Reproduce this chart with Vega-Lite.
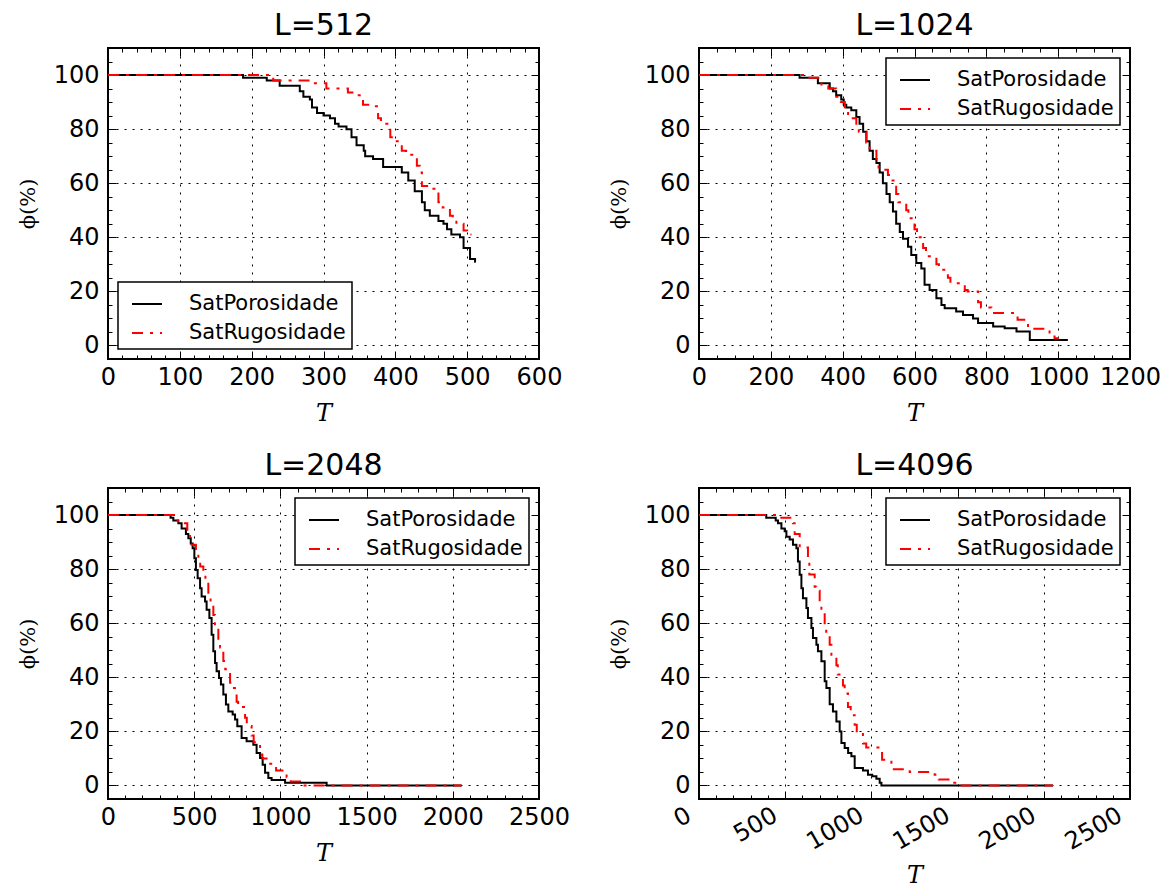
{
"$schema": "https://vega.github.io/schema/vega-lite/v6.json",
"padding": {"left": 16, "top": 10, "right": 5, "bottom": 2},
"bounds": "flush",
"spacing": {"row": 129, "column": 160},
"columns": 2,
"datasets": {
"d512": [
{"series":"SatPorosidade","T":0,"phi":100},{"series":"SatPorosidade","T":188,"phi":99},{"series":"SatPorosidade","T":221,"phi":98},{"series":"SatPorosidade","T":239,"phi":96},{"series":"SatPorosidade","T":267,"phi":94},{"series":"SatPorosidade","T":272,"phi":92},{"series":"SatPorosidade","T":281,"phi":91},{"series":"SatPorosidade","T":284,"phi":88},{"series":"SatPorosidade","T":291,"phi":86},{"series":"SatPorosidade","T":300,"phi":85},{"series":"SatPorosidade","T":309,"phi":84},{"series":"SatPorosidade","T":316,"phi":82},{"series":"SatPorosidade","T":321,"phi":81},{"series":"SatPorosidade","T":332,"phi":80},{"series":"SatPorosidade","T":339,"phi":77},{"series":"SatPorosidade","T":346,"phi":74},{"series":"SatPorosidade","T":356,"phi":72},{"series":"SatPorosidade","T":358,"phi":70},{"series":"SatPorosidade","T":369,"phi":69},{"series":"SatPorosidade","T":383,"phi":66},{"series":"SatPorosidade","T":409,"phi":64},{"series":"SatPorosidade","T":418,"phi":61},{"series":"SatPorosidade","T":427,"phi":57},{"series":"SatPorosidade","T":437,"phi":53},{"series":"SatPorosidade","T":441,"phi":50},{"series":"SatPorosidade","T":448,"phi":48},{"series":"SatPorosidade","T":460,"phi":46},{"series":"SatPorosidade","T":467,"phi":45},{"series":"SatPorosidade","T":472,"phi":43},{"series":"SatPorosidade","T":478,"phi":41},{"series":"SatPorosidade","T":490,"phi":40},{"series":"SatPorosidade","T":495,"phi":36},{"series":"SatPorosidade","T":504,"phi":32},{"series":"SatPorosidade","T":511,"phi":31},{"series":"SatPorosidade","T":512,"phi":31},
{"series":"SatRugosidade","T":0,"phi":100},{"series":"SatRugosidade","T":230,"phi":98},{"series":"SatRugosidade","T":286,"phi":97},{"series":"SatRugosidade","T":304,"phi":95},{"series":"SatRugosidade","T":334,"phi":93.5},{"series":"SatRugosidade","T":345,"phi":92.5},{"series":"SatRugosidade","T":355,"phi":89},{"series":"SatRugosidade","T":367,"phi":88.5},{"series":"SatRugosidade","T":376,"phi":84},{"series":"SatRugosidade","T":380,"phi":82},{"series":"SatRugosidade","T":393,"phi":77},{"series":"SatRugosidade","T":398,"phi":75.5},{"series":"SatRugosidade","T":409,"phi":72},{"series":"SatRugosidade","T":415,"phi":71},{"series":"SatRugosidade","T":420,"phi":70.5},{"series":"SatRugosidade","T":430,"phi":66.5},{"series":"SatRugosidade","T":434,"phi":64},{"series":"SatRugosidade","T":437,"phi":59},{"series":"SatRugosidade","T":448,"phi":58},{"series":"SatRugosidade","T":460,"phi":53},{"series":"SatRugosidade","T":466,"phi":51},{"series":"SatRugosidade","T":476,"phi":48},{"series":"SatRugosidade","T":480,"phi":46.5},{"series":"SatRugosidade","T":485,"phi":45},{"series":"SatRugosidade","T":495,"phi":42.5},{"series":"SatRugosidade","T":500,"phi":41},{"series":"SatRugosidade","T":506,"phi":41}
],
"d1024": [
{"series":"SatPorosidade","T":0,"phi":100},{"series":"SatPorosidade","T":280,"phi":99},{"series":"SatPorosidade","T":331,"phi":97},{"series":"SatPorosidade","T":364,"phi":95},{"series":"SatPorosidade","T":373,"phi":94},{"series":"SatPorosidade","T":382,"phi":92.5},{"series":"SatPorosidade","T":396,"phi":91},{"series":"SatPorosidade","T":403,"phi":89},{"series":"SatPorosidade","T":410,"phi":88},{"series":"SatPorosidade","T":424,"phi":87},{"series":"SatPorosidade","T":438,"phi":84.5},{"series":"SatPorosidade","T":447,"phi":82},{"series":"SatPorosidade","T":457,"phi":79},{"series":"SatPorosidade","T":466,"phi":75.5},{"series":"SatPorosidade","T":475,"phi":72},{"series":"SatPorosidade","T":484,"phi":69},{"series":"SatPorosidade","T":494,"phi":67.5},{"series":"SatPorosidade","T":503,"phi":64},{"series":"SatPorosidade","T":512,"phi":60},{"series":"SatPorosidade","T":522,"phi":56},{"series":"SatPorosidade","T":531,"phi":53},{"series":"SatPorosidade","T":540,"phi":49.5},{"series":"SatPorosidade","T":549,"phi":45},{"series":"SatPorosidade","T":559,"phi":42},{"series":"SatPorosidade","T":568,"phi":39.5},{"series":"SatPorosidade","T":582,"phi":36.5},{"series":"SatPorosidade","T":591,"phi":33.5},{"series":"SatPorosidade","T":605,"phi":30.5},{"series":"SatPorosidade","T":619,"phi":28.5},{"series":"SatPorosidade","T":628,"phi":22.5},{"series":"SatPorosidade","T":642,"phi":20.5},{"series":"SatPorosidade","T":661,"phi":17.5},{"series":"SatPorosidade","T":675,"phi":15},{"series":"SatPorosidade","T":684,"phi":13.8},{"series":"SatPorosidade","T":716,"phi":12.6},{"series":"SatPorosidade","T":735,"phi":11.3},{"series":"SatPorosidade","T":763,"phi":10},{"series":"SatPorosidade","T":777,"phi":8.3},{"series":"SatPorosidade","T":819,"phi":7},{"series":"SatPorosidade","T":851,"phi":6.4},{"series":"SatPorosidade","T":884,"phi":5.2},{"series":"SatPorosidade","T":921,"phi":2},{"series":"SatPorosidade","T":1027,"phi":2},
{"series":"SatRugosidade","T":0,"phi":100},{"series":"SatRugosidade","T":294,"phi":99},{"series":"SatRugosidade","T":341,"phi":96},{"series":"SatRugosidade","T":360,"phi":95},{"series":"SatRugosidade","T":382,"phi":92},{"series":"SatRugosidade","T":395,"phi":90},{"series":"SatRugosidade","T":406,"phi":86},{"series":"SatRugosidade","T":415,"phi":84},{"series":"SatRugosidade","T":438,"phi":80},{"series":"SatRugosidade","T":445,"phi":79},{"series":"SatRugosidade","T":466,"phi":75},{"series":"SatRugosidade","T":475,"phi":72},{"series":"SatRugosidade","T":494,"phi":68},{"series":"SatRugosidade","T":500,"phi":65},{"series":"SatRugosidade","T":526,"phi":63},{"series":"SatRugosidade","T":535,"phi":61},{"series":"SatRugosidade","T":549,"phi":56},{"series":"SatRugosidade","T":555,"phi":53},{"series":"SatRugosidade","T":577,"phi":50},{"series":"SatRugosidade","T":583,"phi":47},{"series":"SatRugosidade","T":600,"phi":43},{"series":"SatRugosidade","T":607,"phi":40},{"series":"SatRugosidade","T":624,"phi":36},{"series":"SatRugosidade","T":632,"phi":33},{"series":"SatRugosidade","T":661,"phi":30},{"series":"SatRugosidade","T":668,"phi":28},{"series":"SatRugosidade","T":693,"phi":25},{"series":"SatRugosidade","T":700,"phi":23},{"series":"SatRugosidade","T":740,"phi":20.5},{"series":"SatRugosidade","T":748,"phi":20},{"series":"SatRugosidade","T":777,"phi":16},{"series":"SatRugosidade","T":785,"phi":14},{"series":"SatRugosidade","T":814,"phi":12},{"series":"SatRugosidade","T":879,"phi":11},{"series":"SatRugosidade","T":887,"phi":9.5},{"series":"SatRugosidade","T":916,"phi":6.2},{"series":"SatRugosidade","T":976,"phi":3.3},{"series":"SatRugosidade","T":990,"phi":2.7},{"series":"SatRugosidade","T":1002,"phi":2.7}
],
"d2048": [
{"series":"SatPorosidade","T":0,"phi":100},{"series":"SatPorosidade","T":363,"phi":99},{"series":"SatPorosidade","T":379,"phi":98},{"series":"SatPorosidade","T":408,"phi":97},{"series":"SatPorosidade","T":427,"phi":95},{"series":"SatPorosidade","T":452,"phi":93},{"series":"SatPorosidade","T":466,"phi":91.4},{"series":"SatPorosidade","T":480,"phi":89.5},{"series":"SatPorosidade","T":491,"phi":87.7},{"series":"SatPorosidade","T":501,"phi":84},{"series":"SatPorosidade","T":510,"phi":79.7},{"series":"SatPorosidade","T":520,"phi":76.6},{"series":"SatPorosidade","T":534,"phi":72.9},{"series":"SatPorosidade","T":543,"phi":69.9},{"series":"SatPorosidade","T":563,"phi":68},{"series":"SatPorosidade","T":572,"phi":65},{"series":"SatPorosidade","T":588,"phi":61.9},{"series":"SatPorosidade","T":601,"phi":55.7},{"series":"SatPorosidade","T":611,"phi":49.6},{"series":"SatPorosidade","T":621,"phi":45.3},{"series":"SatPorosidade","T":630,"phi":42.2},{"series":"SatPorosidade","T":644,"phi":39.7},{"series":"SatPorosidade","T":655,"phi":37.3},{"series":"SatPorosidade","T":669,"phi":33.6},{"series":"SatPorosidade","T":684,"phi":29.9},{"series":"SatPorosidade","T":698,"phi":27.4},{"series":"SatPorosidade","T":723,"phi":26.2},{"series":"SatPorosidade","T":737,"phi":24.4},{"series":"SatPorosidade","T":750,"phi":21.9},{"series":"SatPorosidade","T":775,"phi":17.6},{"series":"SatPorosidade","T":804,"phi":16.4},{"series":"SatPorosidade","T":843,"phi":15.1},{"series":"SatPorosidade","T":862,"phi":12},{"series":"SatPorosidade","T":882,"phi":10.2},{"series":"SatPorosidade","T":897,"phi":7.7},{"series":"SatPorosidade","T":911,"phi":4.7},{"series":"SatPorosidade","T":930,"phi":2.8},{"series":"SatPorosidade","T":949,"phi":2},{"series":"SatPorosidade","T":1027,"phi":1},{"series":"SatPorosidade","T":1268,"phi":0},{"series":"SatPorosidade","T":2051,"phi":0},
{"series":"SatRugosidade","T":0,"phi":100},{"series":"SatRugosidade","T":389,"phi":98},{"series":"SatRugosidade","T":405,"phi":97},{"series":"SatRugosidade","T":460,"phi":93},{"series":"SatRugosidade","T":476,"phi":91},{"series":"SatRugosidade","T":485,"phi":89},{"series":"SatRugosidade","T":510,"phi":86},{"series":"SatRugosidade","T":524,"phi":84},{"series":"SatRugosidade","T":535,"phi":81},{"series":"SatRugosidade","T":553,"phi":78},{"series":"SatRugosidade","T":565,"phi":75},{"series":"SatRugosidade","T":582,"phi":70},{"series":"SatRugosidade","T":595,"phi":68},{"series":"SatRugosidade","T":611,"phi":63},{"series":"SatRugosidade","T":620,"phi":59},{"series":"SatRugosidade","T":640,"phi":53},{"series":"SatRugosidade","T":650,"phi":51},{"series":"SatRugosidade","T":669,"phi":46},{"series":"SatRugosidade","T":680,"phi":43},{"series":"SatRugosidade","T":708,"phi":38},{"series":"SatRugosidade","T":718,"phi":36},{"series":"SatRugosidade","T":746,"phi":31},{"series":"SatRugosidade","T":755,"phi":29},{"series":"SatRugosidade","T":795,"phi":25},{"series":"SatRugosidade","T":805,"phi":22},{"series":"SatRugosidade","T":833,"phi":18.5},{"series":"SatRugosidade","T":845,"phi":16},{"series":"SatRugosidade","T":882,"phi":11.5},{"series":"SatRugosidade","T":895,"phi":10},{"series":"SatRugosidade","T":930,"phi":8},{"series":"SatRugosidade","T":959,"phi":7.5},{"series":"SatRugosidade","T":975,"phi":5.5},{"series":"SatRugosidade","T":1036,"phi":3},{"series":"SatRugosidade","T":1060,"phi":1.5},{"series":"SatRugosidade","T":1114,"phi":0},{"series":"SatRugosidade","T":2051,"phi":0}
],
"d4096": [
{"series":"SatPorosidade","T":0,"phi":100},{"series":"SatPorosidade","T":390,"phi":99},{"series":"SatPorosidade","T":445,"phi":98},{"series":"SatPorosidade","T":458,"phi":97},{"series":"SatPorosidade","T":478,"phi":95},{"series":"SatPorosidade","T":497,"phi":94},{"series":"SatPorosidade","T":507,"phi":92},{"series":"SatPorosidade","T":526,"phi":91},{"series":"SatPorosidade","T":545,"phi":89},{"series":"SatPorosidade","T":565,"phi":87.7},{"series":"SatPorosidade","T":574,"phi":82.8},{"series":"SatPorosidade","T":584,"phi":77.9},{"series":"SatPorosidade","T":594,"phi":72.9},{"series":"SatPorosidade","T":603,"phi":69.2},{"series":"SatPorosidade","T":623,"phi":65.6},{"series":"SatPorosidade","T":632,"phi":61.9},{"series":"SatPorosidade","T":652,"phi":58.2},{"series":"SatPorosidade","T":661,"phi":54.5},{"series":"SatPorosidade","T":681,"phi":52},{"series":"SatPorosidade","T":690,"phi":49.6},{"series":"SatPorosidade","T":710,"phi":45.9},{"series":"SatPorosidade","T":729,"phi":38.5},{"series":"SatPorosidade","T":739,"phi":36},{"series":"SatPorosidade","T":758,"phi":30},{"series":"SatPorosidade","T":777,"phi":27.4},{"series":"SatPorosidade","T":797,"phi":23.7},{"series":"SatPorosidade","T":816,"phi":20},{"series":"SatPorosidade","T":826,"phi":15.7},{"series":"SatPorosidade","T":845,"phi":13.9},{"series":"SatPorosidade","T":865,"phi":12},{"series":"SatPorosidade","T":884,"phi":10.8},{"series":"SatPorosidade","T":903,"phi":6.5},{"series":"SatPorosidade","T":951,"phi":5.5},{"series":"SatPorosidade","T":980,"phi":4},{"series":"SatPorosidade","T":1005,"phi":3.4},{"series":"SatPorosidade","T":1029,"phi":2.5},{"series":"SatPorosidade","T":1048,"phi":1},{"series":"SatPorosidade","T":1058,"phi":0},{"series":"SatPorosidade","T":2053,"phi":0},
{"series":"SatRugosidade","T":0,"phi":100},{"series":"SatRugosidade","T":458,"phi":99},{"series":"SatRugosidade","T":545,"phi":97},{"series":"SatRugosidade","T":555,"phi":93},{"series":"SatRugosidade","T":584,"phi":88},{"series":"SatRugosidade","T":632,"phi":83},{"series":"SatRugosidade","T":640,"phi":78},{"series":"SatRugosidade","T":671,"phi":73.5},{"series":"SatRugosidade","T":680,"phi":72},{"series":"SatRugosidade","T":700,"phi":67},{"series":"SatRugosidade","T":710,"phi":64},{"series":"SatRugosidade","T":729,"phi":59.5},{"series":"SatRugosidade","T":738,"phi":56},{"series":"SatRugosidade","T":758,"phi":52},{"series":"SatRugosidade","T":768,"phi":48},{"series":"SatRugosidade","T":797,"phi":44.5},{"series":"SatRugosidade","T":805,"phi":41},{"series":"SatRugosidade","T":835,"phi":37},{"series":"SatRugosidade","T":845,"phi":34},{"series":"SatRugosidade","T":864,"phi":29},{"series":"SatRugosidade","T":880,"phi":26},{"series":"SatRugosidade","T":903,"phi":22.5},{"series":"SatRugosidade","T":915,"phi":19},{"series":"SatRugosidade","T":951,"phi":15.5},{"series":"SatRugosidade","T":970,"phi":14},{"series":"SatRugosidade","T":1048,"phi":12},{"series":"SatRugosidade","T":1062,"phi":9.5},{"series":"SatRugosidade","T":1116,"phi":6.5},{"series":"SatRugosidade","T":1130,"phi":6},{"series":"SatRugosidade","T":1222,"phi":5},{"series":"SatRugosidade","T":1367,"phi":4},{"series":"SatRugosidade","T":1390,"phi":2.2},{"series":"SatRugosidade","T":1454,"phi":1},{"series":"SatRugosidade","T":1512,"phi":0},{"series":"SatRugosidade","T":2053,"phi":0}
]
},
"resolve": {"scale": {"color": "independent", "strokeDash": "independent"}, "legend": {"color": "independent", "strokeDash": "independent"}},
"concat": [
{
"width": 431, "height": 311,
"title": "L=512",
"data": {"name": "d512"},
"resolve": {"axis": {"x": "independent", "y": "independent"}},
"layer": [
{"transform": [{"filter": "datum.series === 'SatPorosidade'"}],
"mark": {"type": "line", "interpolate": "step-after", "strokeWidth": 2},
"encoding": {
"x": {"field": "T", "type": "quantitative", "scale": {"domain": [0, 600], "nice": false, "zero": false},
"axis": {"orient": "bottom", "title": "T", "values": [0,20,40,60,80,100,120,140,160,180,200,220,240,260,280,300,320,340,360,380,400,420,440,460,480,500,520,540,560,580,600], "labelExpr": "datum.value % 100 === 0 ? datum.label : ''", "tickSize": {"condition": {"test": "datum.value % 100 === 0", "value": -8}, "value": -4}, "grid": true, "gridOpacity": {"condition": {"test": "datum.value % 100 === 0", "value": 1}, "value": 0}}},
"y": {"field": "phi", "type": "quantitative", "scale": {"domain": [-5, 110], "nice": false, "zero": false},
"axis": {"orient": "left", "title": "ϕ(%)", "values": [0,5,10,15,20,25,30,35,40,45,50,55,60,65,70,75,80,85,90,95,100,105,110], "labelExpr": "datum.value % 20 === 0 && datum.value <= 100 ? datum.label : ''", "tickSize": {"condition": {"test": "datum.value % 20 === 0 && datum.value <= 100", "value": -8}, "value": -4}, "grid": true, "gridOpacity": {"condition": {"test": "datum.value % 20 === 0 && datum.value <= 100", "value": 1}, "value": 0}}},
"color": {"field": "series", "type": "nominal", "scale": {"domain": ["SatPorosidade", "SatRugosidade"], "range": ["#000000", "#ff0000"]},
"legend": {"title": null, "orient": "bottom-left", "offset": 10}},
"strokeDash": {"field": "series", "type": "nominal", "scale": {"domain": ["SatPorosidade", "SatRugosidade"], "range": [[1, 0], [11, 7, 3, 7]]},
"legend": {"title": null, "orient": "bottom-left", "offset": 10}}
}},
{"transform": [{"filter": "datum.series === 'SatRugosidade'"}],
"mark": {"type": "line", "interpolate": "step-after", "strokeWidth": 2},
"encoding": {
"x": {"field": "T", "type": "quantitative",
"axis": {"orient": "top", "title": null, "labels": false, "grid": false, "values": [0,20,40,60,80,100,120,140,160,180,200,220,240,260,280,300,320,340,360,380,400,420,440,460,480,500,520,540,560,580,600], "tickSize": {"condition": {"test": "datum.value % 100 === 0", "value": -8}, "value": -4}}},
"y": {"field": "phi", "type": "quantitative",
"axis": {"orient": "right", "title": null, "labels": false, "grid": false, "values": [0,5,10,15,20,25,30,35,40,45,50,55,60,65,70,75,80,85,90,95,100,105,110], "tickSize": {"condition": {"test": "datum.value % 20 === 0 && datum.value <= 100", "value": -8}, "value": -4}}},
"color": {"field": "series", "type": "nominal"},
"strokeDash": {"field": "series", "type": "nominal"}
}}
]
},
{
"width": 431, "height": 311,
"title": "L=1024",
"data": {"name": "d1024"},
"resolve": {"axis": {"x": "independent", "y": "independent"}},
"layer": [
{"transform": [{"filter": "datum.series === 'SatPorosidade'"}],
"mark": {"type": "line", "interpolate": "step-after", "strokeWidth": 2},
"encoding": {
"x": {"field": "T", "type": "quantitative", "scale": {"domain": [0, 1200], "nice": false, "zero": false},
"axis": {"orient": "bottom", "title": "T", "values": [0,50,100,150,200,250,300,350,400,450,500,550,600,650,700,750,800,850,900,950,1000,1050,1100,1150,1200], "labelExpr": "datum.value % 200 === 0 ? datum.label : ''", "tickSize": {"condition": {"test": "datum.value % 200 === 0", "value": -8}, "value": -4}, "grid": true, "gridOpacity": {"condition": {"test": "datum.value % 200 === 0", "value": 1}, "value": 0}}},
"y": {"field": "phi", "type": "quantitative", "scale": {"domain": [-5, 110], "nice": false, "zero": false},
"axis": {"orient": "left", "title": "ϕ(%)", "values": [0,5,10,15,20,25,30,35,40,45,50,55,60,65,70,75,80,85,90,95,100,105,110], "labelExpr": "datum.value % 20 === 0 && datum.value <= 100 ? datum.label : ''", "tickSize": {"condition": {"test": "datum.value % 20 === 0 && datum.value <= 100", "value": -8}, "value": -4}, "grid": true, "gridOpacity": {"condition": {"test": "datum.value % 20 === 0 && datum.value <= 100", "value": 1}, "value": 0}}},
"color": {"field": "series", "type": "nominal", "scale": {"domain": ["SatPorosidade", "SatRugosidade"], "range": ["#000000", "#ff0000"]},
"legend": {"title": null, "orient": "top-right", "offset": 10}},
"strokeDash": {"field": "series", "type": "nominal", "scale": {"domain": ["SatPorosidade", "SatRugosidade"], "range": [[1, 0], [11, 7, 3, 7]]},
"legend": {"title": null, "orient": "top-right", "offset": 10}}
}},
{"transform": [{"filter": "datum.series === 'SatRugosidade'"}],
"mark": {"type": "line", "interpolate": "step-after", "strokeWidth": 2},
"encoding": {
"x": {"field": "T", "type": "quantitative",
"axis": {"orient": "top", "title": null, "labels": false, "grid": false, "values": [0,50,100,150,200,250,300,350,400,450,500,550,600,650,700,750,800,850,900,950,1000,1050,1100,1150,1200], "tickSize": {"condition": {"test": "datum.value % 200 === 0", "value": -8}, "value": -4}}},
"y": {"field": "phi", "type": "quantitative",
"axis": {"orient": "right", "title": null, "labels": false, "grid": false, "values": [0,5,10,15,20,25,30,35,40,45,50,55,60,65,70,75,80,85,90,95,100,105,110], "tickSize": {"condition": {"test": "datum.value % 20 === 0 && datum.value <= 100", "value": -8}, "value": -4}}},
"color": {"field": "series", "type": "nominal"},
"strokeDash": {"field": "series", "type": "nominal"}
}}
]
},
{
"width": 431, "height": 311,
"title": "L=2048",
"data": {"name": "d2048"},
"resolve": {"axis": {"x": "independent", "y": "independent"}},
"layer": [
{"transform": [{"filter": "datum.series === 'SatPorosidade'"}],
"mark": {"type": "line", "interpolate": "step-after", "strokeWidth": 2},
"encoding": {
"x": {"field": "T", "type": "quantitative", "scale": {"domain": [0, 2500], "nice": false, "zero": false},
"axis": {"orient": "bottom", "title": "T", "values": [0,100,200,300,400,500,600,700,800,900,1000,1100,1200,1300,1400,1500,1600,1700,1800,1900,2000,2100,2200,2300,2400,2500], "labelExpr": "datum.value % 500 === 0 ? datum.label : ''", "tickSize": {"condition": {"test": "datum.value % 500 === 0", "value": -8}, "value": -4}, "grid": true, "gridOpacity": {"condition": {"test": "datum.value % 500 === 0", "value": 1}, "value": 0}}},
"y": {"field": "phi", "type": "quantitative", "scale": {"domain": [-5, 110], "nice": false, "zero": false},
"axis": {"orient": "left", "title": "ϕ(%)", "values": [0,5,10,15,20,25,30,35,40,45,50,55,60,65,70,75,80,85,90,95,100,105,110], "labelExpr": "datum.value % 20 === 0 && datum.value <= 100 ? datum.label : ''", "tickSize": {"condition": {"test": "datum.value % 20 === 0 && datum.value <= 100", "value": -8}, "value": -4}, "grid": true, "gridOpacity": {"condition": {"test": "datum.value % 20 === 0 && datum.value <= 100", "value": 1}, "value": 0}}},
"color": {"field": "series", "type": "nominal", "scale": {"domain": ["SatPorosidade", "SatRugosidade"], "range": ["#000000", "#ff0000"]},
"legend": {"title": null, "orient": "top-right", "offset": 10}},
"strokeDash": {"field": "series", "type": "nominal", "scale": {"domain": ["SatPorosidade", "SatRugosidade"], "range": [[1, 0], [11, 7, 3, 7]]},
"legend": {"title": null, "orient": "top-right", "offset": 10}}
}},
{"transform": [{"filter": "datum.series === 'SatRugosidade'"}],
"mark": {"type": "line", "interpolate": "step-after", "strokeWidth": 2},
"encoding": {
"x": {"field": "T", "type": "quantitative",
"axis": {"orient": "top", "title": null, "labels": false, "grid": false, "values": [0,100,200,300,400,500,600,700,800,900,1000,1100,1200,1300,1400,1500,1600,1700,1800,1900,2000,2100,2200,2300,2400,2500], "tickSize": {"condition": {"test": "datum.value % 500 === 0", "value": -8}, "value": -4}}},
"y": {"field": "phi", "type": "quantitative",
"axis": {"orient": "right", "title": null, "labels": false, "grid": false, "values": [0,5,10,15,20,25,30,35,40,45,50,55,60,65,70,75,80,85,90,95,100,105,110], "tickSize": {"condition": {"test": "datum.value % 20 === 0 && datum.value <= 100", "value": -8}, "value": -4}}},
"color": {"field": "series", "type": "nominal"},
"strokeDash": {"field": "series", "type": "nominal"}
}}
]
},
{
"width": 431, "height": 311,
"title": "L=4096",
"data": {"name": "d4096"},
"resolve": {"axis": {"x": "independent", "y": "independent"}},
"layer": [
{"transform": [{"filter": "datum.series === 'SatPorosidade'"}],
"mark": {"type": "line", "interpolate": "step-after", "strokeWidth": 2},
"encoding": {
"x": {"field": "T", "type": "quantitative", "scale": {"domain": [0, 2500], "nice": false, "zero": false},
"axis": {"orient": "bottom", "title": "T", "labelAngle": -30, "labelAlign": "right", "labelBaseline": "top", "labelPadding": 12, "labelOffset": -16, "titlePadding": 9, "values": [0,100,200,300,400,500,600,700,800,900,1000,1100,1200,1300,1400,1500,1600,1700,1800,1900,2000,2100,2200,2300,2400,2500], "labelExpr": "datum.value % 500 === 0 ? datum.label : ''", "tickSize": {"condition": {"test": "datum.value % 500 === 0", "value": -8}, "value": -4}, "grid": true, "gridOpacity": {"condition": {"test": "datum.value % 500 === 0", "value": 1}, "value": 0}}},
"y": {"field": "phi", "type": "quantitative", "scale": {"domain": [-5, 110], "nice": false, "zero": false},
"axis": {"orient": "left", "title": "ϕ(%)", "values": [0,5,10,15,20,25,30,35,40,45,50,55,60,65,70,75,80,85,90,95,100,105,110], "labelExpr": "datum.value % 20 === 0 && datum.value <= 100 ? datum.label : ''", "tickSize": {"condition": {"test": "datum.value % 20 === 0 && datum.value <= 100", "value": -8}, "value": -4}, "grid": true, "gridOpacity": {"condition": {"test": "datum.value % 20 === 0 && datum.value <= 100", "value": 1}, "value": 0}}},
"color": {"field": "series", "type": "nominal", "scale": {"domain": ["SatPorosidade", "SatRugosidade"], "range": ["#000000", "#ff0000"]},
"legend": {"title": null, "orient": "top-right", "offset": 10}},
"strokeDash": {"field": "series", "type": "nominal", "scale": {"domain": ["SatPorosidade", "SatRugosidade"], "range": [[1, 0], [11, 7, 3, 7]]},
"legend": {"title": null, "orient": "top-right", "offset": 10}}
}},
{"transform": [{"filter": "datum.series === 'SatRugosidade'"}],
"mark": {"type": "line", "interpolate": "step-after", "strokeWidth": 2},
"encoding": {
"x": {"field": "T", "type": "quantitative",
"axis": {"orient": "top", "title": null, "labels": false, "grid": false, "values": [0,100,200,300,400,500,600,700,800,900,1000,1100,1200,1300,1400,1500,1600,1700,1800,1900,2000,2100,2200,2300,2400,2500], "tickSize": {"condition": {"test": "datum.value % 500 === 0", "value": -8}, "value": -4}}},
"y": {"field": "phi", "type": "quantitative",
"axis": {"orient": "right", "title": null, "labels": false, "grid": false, "values": [0,5,10,15,20,25,30,35,40,45,50,55,60,65,70,75,80,85,90,95,100,105,110], "tickSize": {"condition": {"test": "datum.value % 20 === 0 && datum.value <= 100", "value": -8}, "value": -4}}},
"color": {"field": "series", "type": "nominal"},
"strokeDash": {"field": "series", "type": "nominal"}
}}
]
}
],
"config": {
"background": "white",
"view": {"stroke": "black", "strokeWidth": 2},
"axis": {"domain": false, "format": "d", "labelFont": "DejaVu Sans", "labelFontSize": 24, "labelColor": "black", "tickColor": "black", "tickWidth": 1, "gridColor": "black", "gridDash": [2, 6], "gridWidth": 1, "labelFlush": false, "labelOverlap": false, "titleFont": "DejaVu Serif", "titleFontSize": 24, "titleFontWeight": "normal", "titleColor": "black"},
"axisX": {"labelPadding": 14, "titlePadding": 8, "titleFontStyle": "italic"},
"axisY": {"labelPadding": 17, "titlePadding": 15, "titleFontSize": 21},
"title": {"font": "DejaVu Sans", "fontSize": 30, "fontWeight": "normal", "color": "black", "offset": -5},
"legend": {"fillColor": "white", "strokeColor": "black", "strokeWidth": 1.5, "padding": 6, "symbolType": "stroke", "symbolSize": 900, "symbolStrokeWidth": 2, "symbolOffset": 7, "labelFont": "DejaVu Sans", "labelFontSize": 21, "labelColor": "black", "labelOffset": 26, "rowPadding": 3, "labelLimit": 400}
}
}
